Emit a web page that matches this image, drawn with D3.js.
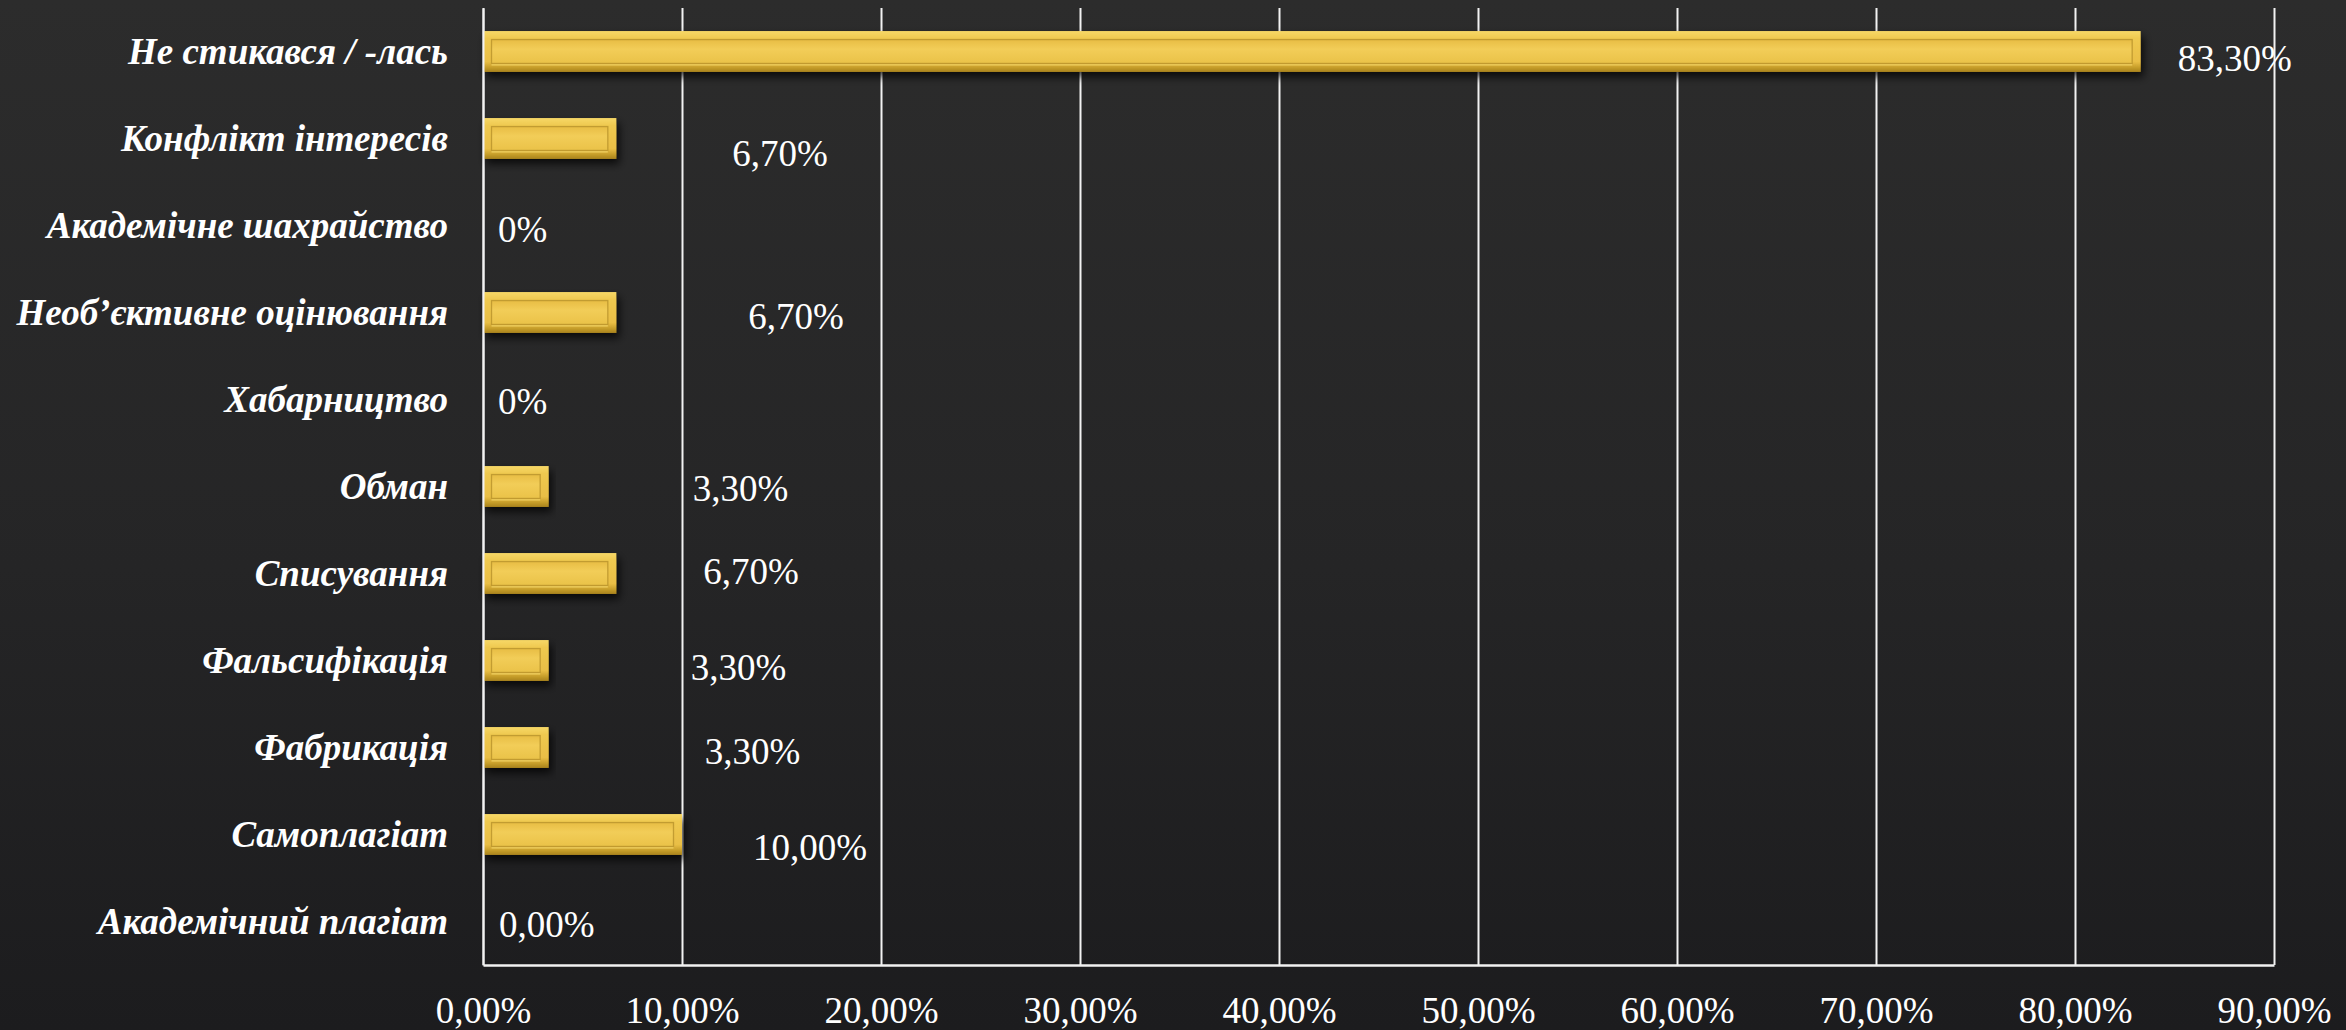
<!DOCTYPE html>
<html>
<head>
<meta charset="utf-8">
<script src="https://cdn.jsdelivr.net/npm/d3@7/dist/d3.min.js"></script>
<style>
  html, body { margin: 0; padding: 0; background: #242424; }
  svg { display: block; }
</style>
</head>
<body>
<svg id="chart" width="2346" height="1030"></svg>
<script>
// ---- data (top to bottom as shown) ----
const categories = [
  "Не стикався / -лась",
  "Конфлікт інтересів",
  "Академічне шахрайство",
  "Необ’єктивне оцінювання",
  "Хабарництво",
  "Обман",
  "Списування",
  "Фальсифікація",
  "Фабрикація",
  "Самоплагіат",
  "Академічний плагіат"
];
const values = [83.3, 6.7, 0, 6.7, 0, 3.3, 6.7, 3.3, 3.3, 10, 0];
const valueLabels = ["83,30%", "6,70%", "0%", "6,70%", "0%", "3,30%", "6,70%", "3,30%", "3,30%", "10,00%", "0,00%"];
const tickValues = [0, 10, 20, 30, 40, 50, 60, 70, 80, 90];
const tickLabels = ["0,00%", "10,00%", "20,00%", "30,00%", "40,00%", "50,00%", "60,00%", "70,00%", "80,00%", "90,00%"];

// ---- layout (manually moved data labels in the original) ----
const labelNudgeX = [37, 116, 15, 132, 15, 144, 87, 142, 156, 71, 16];
const labelNudgeY = [7, 15, 4, 4, 2, 2, -2, 7, 4, 13, 3];

const W = 2346, H = 1030;
const plot = { left: 483, right: 2274, top: 8, bottom: 965 };

const svg = d3.select("#chart");
const defs = svg.append("defs");

// background
const bg = defs.append("linearGradient").attr("id", "bg").attr("x1", 0).attr("y1", 0).attr("x2", 0).attr("y2", 1);
bg.append("stop").attr("offset", "0%").attr("stop-color", "#2c2c2c");
bg.append("stop").attr("offset", "55%").attr("stop-color", "#252526");
bg.append("stop").attr("offset", "100%").attr("stop-color", "#1c1c1e");
svg.append("rect").attr("width", W).attr("height", H).attr("fill", "url(#bg)");

// bar gradients
const outer = defs.append("linearGradient").attr("id", "barOuter").attr("x1", 0).attr("y1", 0).attr("x2", 0).attr("y2", 1);
[["0%", "#f7d867"], ["18%", "#efc950"], ["75%", "#e9be45"], ["88%", "#c9a02c"], ["100%", "#a8821c"]]
  .forEach(([o, c]) => outer.append("stop").attr("offset", o).attr("stop-color", c));
const inner = defs.append("linearGradient").attr("id", "barInner").attr("x1", 0).attr("y1", 0).attr("x2", 0).attr("y2", 1);
[["0%", "#e8bd44"], ["40%", "#f2cd58"], ["100%", "#eac248"]]
  .forEach(([o, c]) => inner.append("stop").attr("offset", o).attr("stop-color", c));

const shadow = defs.append("filter").attr("id", "shadow").attr("x", "-5%").attr("y", "-40%").attr("width", "115%").attr("height", "200%");
shadow.append("feDropShadow").attr("dx", 3).attr("dy", 5).attr("stdDeviation", 4).attr("flood-color", "#000").attr("flood-opacity", 0.75);

// scales
const x = d3.scaleLinear().domain([0, 90]).range([plot.left, plot.right]);
const y = d3.scaleBand().domain(categories).range([plot.top, plot.bottom]).paddingInner(0.53).paddingOuter(0.265);

// gridlines
const grid = svg.append("g").attr("transform", `translate(0,${plot.top})`)
  .call(d3.axisTop(x).tickValues(tickValues).tickSize(-(plot.bottom - plot.top)).tickFormat(""));
grid.select(".domain").remove();
grid.selectAll(".tick line").attr("stroke", "#f2f2f2").attr("stroke-width", 2);

// bars
const barData = values.map((v, i) => ({ cat: categories[i], v })).filter(d => d.v > 0);
const bars = svg.append("g").selectAll("g.bar").data(barData).join("g").attr("class", "bar");
const ins = 8.5;
bars.append("rect")
  .attr("x", x(0))
  .attr("y", d => y(d.cat))
  .attr("width", d => x(d.v) - x(0))
  .attr("height", y.bandwidth())
  .attr("fill", "url(#barOuter)")
  .attr("filter", "url(#shadow)");
bars.append("rect")
  .attr("x", x(0) + ins)
  .attr("y", d => y(d.cat) + ins)
  .attr("width", d => Math.max(0, x(d.v) - x(0) - 2 * ins))
  .attr("height", y.bandwidth() - 2 * ins)
  .attr("fill", "url(#barInner)")
  .attr("stroke", "#b8922a").attr("stroke-opacity", 0.8).attr("stroke-width", 1.3);
bars.append("line")
  .attr("x1", x(0) + ins)
  .attr("x2", d => x(d.v) - ins)
  .attr("y1", d => y(d.cat) + y.bandwidth() - ins + 1.5)
  .attr("y2", d => y(d.cat) + y.bandwidth() - ins + 1.5)
  .attr("stroke", "#f6d86c").attr("stroke-width", 1.2).attr("stroke-opacity", 0.8);

// axes
const xAxis = svg.append("g").attr("transform", `translate(0,${plot.bottom})`)
  .call(d3.axisBottom(x).tickValues(tickValues).tickSize(0).tickPadding(40)
    .tickFormat((d, i) => tickLabels[i]));
xAxis.select(".domain").attr("stroke", "#f2f2f2").attr("stroke-width", 2.5);
xAxis.selectAll(".tick text")
  .attr("fill", "#ffffff")
  .attr("font-family", "'Liberation Serif', 'Times New Roman', serif")
  .attr("font-size", 37)
  .attr("dy", 0)
  .attr("y", 1023 - plot.bottom);

const yAxis = svg.append("g").attr("transform", `translate(${plot.left},0)`)
  .call(d3.axisLeft(y).tickSize(0).tickPadding(35));
yAxis.select(".domain").attr("stroke", "#f2f2f2").attr("stroke-width", 2);
yAxis.selectAll(".tick text")
  .attr("fill", "#ffffff")
  .attr("font-family", "'Liberation Serif', 'Times New Roman', serif")
  .attr("font-weight", "bold")
  .attr("font-style", "italic")
  .attr("font-size", 37)
  .attr("dy", "0.33em");

// value labels
svg.append("g").selectAll("text").data(values).join("text")
  .attr("x", (d, i) => x(d) + labelNudgeX[i])
  .attr("y", (d, i) => y(categories[i]) + y.bandwidth() / 2 + labelNudgeY[i])
  .attr("dominant-baseline", "central")
  .attr("fill", "#ffffff")
  .attr("font-family", "'Liberation Serif', 'Times New Roman', serif")
  .attr("font-size", 37)
  .text((d, i) => valueLabels[i]);
</script>
</body>
</html>
